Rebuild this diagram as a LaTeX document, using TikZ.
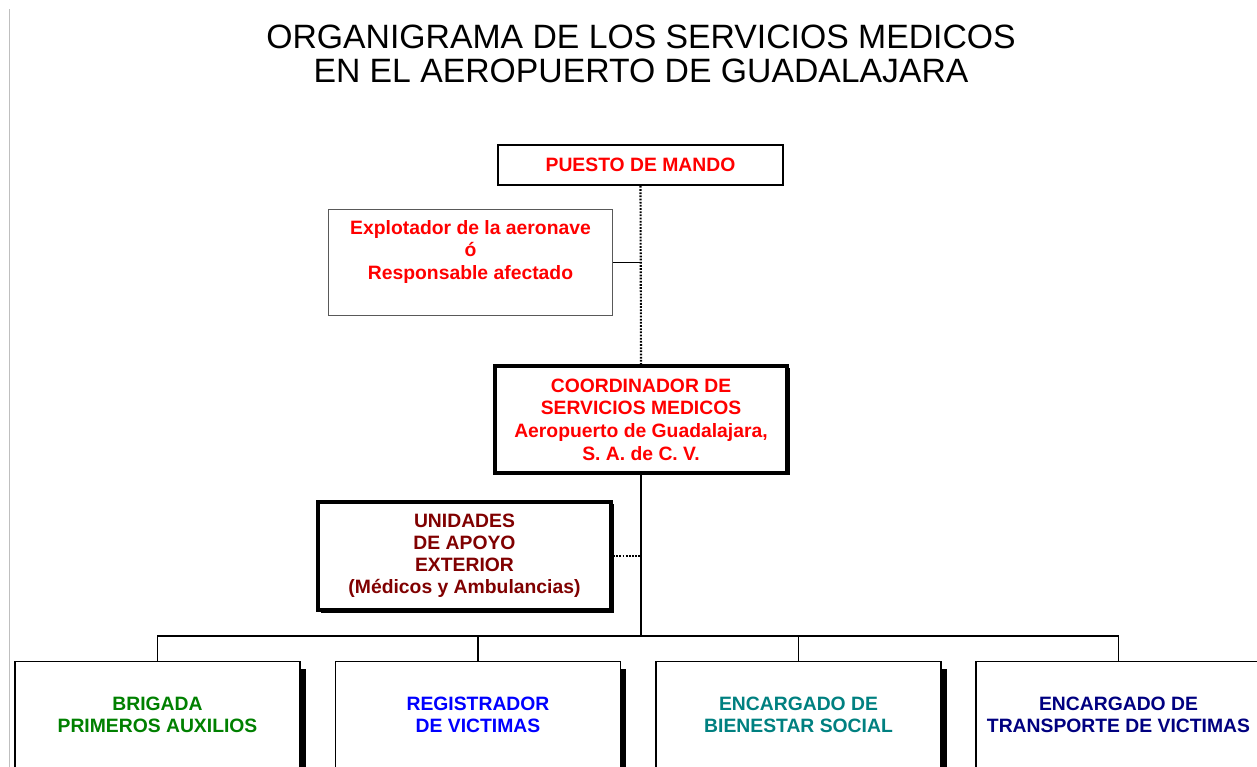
\documentclass[tikz,border=0pt]{standalone}
\usepackage{fontspec}
\setmainfont{Liberation Sans}
\usepackage{tikz}
\usetikzlibrary{shadows}
\usepackage{xcolor}

\definecolor{mandored}{HTML}{FF0000}
\definecolor{apoyored}{HTML}{800000}
\definecolor{brigadagreen}{HTML}{008000}
\definecolor{registroblue}{HTML}{0000FF}
\definecolor{bienestarteal}{HTML}{008080}
\definecolor{transportenavy}{HTML}{000080}

\tikzset{
  every node/.style={font=\bfseries\fontsize{11}{12.6}\selectfont, align=center},
  mainbox/.style={draw, line width=1.1pt, fill=white},
  plainbox/.style={draw=black!65, line width=0.6pt, fill=white},
  framebox/.style={draw, line width=2.4pt, fill=white,
    drop shadow={shadow xshift=0.05cm, shadow yshift=-0.05cm, fill=black, opacity=1}},
  unitbox/.style={draw, line width=1.1pt, fill=white, minimum width=5.70cm, minimum height=2.14cm,
    drop shadow={shadow xshift=0.11cm, shadow yshift=-0.14cm, fill=black, opacity=1}},
  dotline/.style={line width=1.2pt, dash pattern=on 1pt off 0.8pt},
  busline/.style={line width=1.1pt}
}

\begin{document}
\begin{tikzpicture}

  \useasboundingbox (0,0) rectangle (25.14,-15.34);
  \clip (0,0) rectangle (25.14,-15.34);

  % page edge on the left
  \draw[black!25, line width=0.5pt] (0.18,-0.19) -- (0.18,-15.34);

  % ---- title ----
  \node[font=\fontsize{19.2}{19.4}\selectfont] (titulo) at (12.82,-1.08)
    {ORGANIGRAMA DE LOS SERVICIOS MEDICOS\\EN EL AEROPUERTO DE GUADALAJARA};

  % ---- upper part ----
  \node[mainbox, text=mandored, minimum width=5.70cm, minimum height=0.80cm] (mando) at (12.81,-3.30)
    {PUESTO DE MANDO};

  % text sits above the middle of this box
  \node[plainbox, minimum width=5.68cm, minimum height=2.12cm,
        label={[text=mandored, yshift=0.21cm]center:{Explotador de la aeronave\\ó\\Responsable afectado}}]
    (explotador) at (9.41,-5.25) {};

  \node[framebox, text=mandored, minimum width=5.84cm, minimum height=2.14cm,
        font=\bfseries\fontsize{11}{12.9}\selectfont] (coordinador) at (12.82,-8.39)
    {COORDINADOR DE\\SERVICIOS MEDICOS\\Aeropuerto de Guadalajara,\\S. A. de C. V.};

  \node[framebox, text=apoyored, minimum width=5.86cm, minimum height=2.16cm] (apoyo) at (9.29,-11.12)
    {UNIDADES\\DE APOYO\\EXTERIOR\\(Médicos y Ambulancias)};

  % ---- lower row, cut off by the page ----
  \node[unitbox, text=brigadagreen]    (brigada)    at (3.15,-14.30)  {BRIGADA\\PRIMEROS AUXILIOS};
  \node[unitbox, text=registroblue]    (registro)   at (9.56,-14.30)  {REGISTRADOR\\DE VICTIMAS};
  \node[unitbox, text=bienestarteal]   (bienestar)  at (15.97,-14.30) {ENCARGADO DE\\BIENESTAR SOCIAL};
  \node[unitbox, text=transportenavy]  (transporte) at (22.37,-14.30) {ENCARGADO DE\\TRANSPORTE DE VICTIMAS};

  \coordinate (bus) at (12.82,-12.72);

  % ---- connectors ----
  \draw[dotline] (mando.south) -- (coordinador.north);
  \draw[line width=0.8pt] (explotador.east) -- (explotador.east -| mando.south);
  \draw[busline] (coordinador.south) -- (bus);
  \draw[dotline] (apoyo.east) -- (apoyo.east -| coordinador.south);

  \draw[busline] (brigada.north) |- (bus) -| (transporte.north);
  \draw[busline] (registro.north) -- (registro.north |- bus);
  \draw[busline] (bienestar.north) -- (bienestar.north |- bus);

\end{tikzpicture}
\end{document}
